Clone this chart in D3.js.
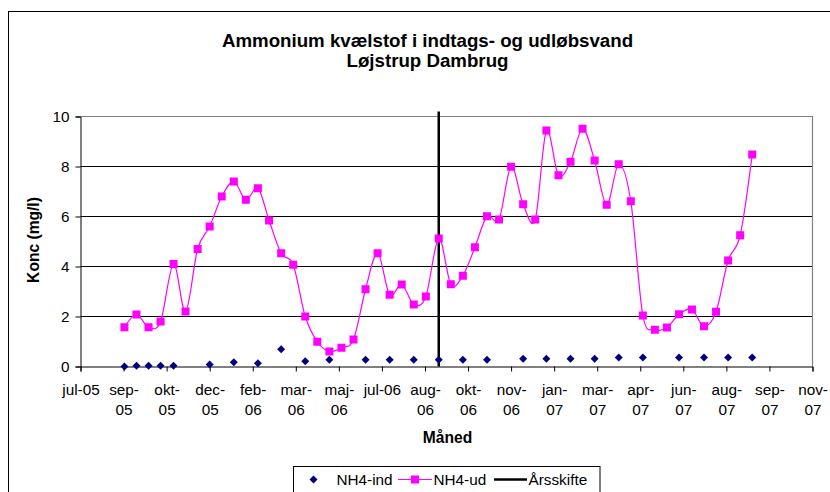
<!DOCTYPE html>
<html>
<head>
<meta charset="utf-8">
<script src="https://cdn.jsdelivr.net/npm/d3@7"></script>
<style>
  html, body { margin: 0; padding: 0; background: #fff; }
  svg { display: block; font-family: "Liberation Sans", Arial, sans-serif; }
</style>
</head>
<body>
<svg id="chart" width="830" height="492"></svg>
<script>
// ---------------- data ----------------
const titleLines = ["Ammonium kvælstof i indtags- og udløbsvand", "Løjstrup Dambrug"];
const yTitle = "Konc (mg/l)";
const xTitle = "Måned";
const seriesNames = ["NH4-ind", "NH4-ud", "Årsskifte"];

const axisStartDate = "2005-07-17";
const axisSpanDays = 850;
const axisStepDays = 50;
const xTickLabels = ["jul-05","sep-05","okt-05","dec-05","feb-06","mar-06","maj-06","jul-06","aug-06",
                     "okt-06","nov-06","jan-07","mar-07","apr-07","jun-07","aug-07","sep-07","nov-07"];
const yTicks = [0, 2, 4, 6, 8, 10];

const udDates = ["2005-09-06","2005-09-20","2005-10-04","2005-10-18","2005-11-02","2005-11-16","2005-11-30",
  "2005-12-14","2005-12-28","2006-01-11","2006-01-25","2006-02-08","2006-02-21","2006-03-07","2006-03-21",
  "2006-04-04","2006-04-18","2006-05-02","2006-05-16","2006-05-30","2006-06-13","2006-06-27","2006-07-11",
  "2006-07-25","2006-08-08","2006-08-22","2006-09-06","2006-09-20","2006-10-04","2006-10-18","2006-11-01",
  "2006-11-15","2006-11-29","2006-12-13","2006-12-27","2007-01-09","2007-01-23","2007-02-06","2007-02-20",
  "2007-03-06","2007-03-20","2007-04-03","2007-04-17","2007-05-01","2007-05-15","2007-05-29","2007-06-12",
  "2007-06-27","2007-07-11","2007-07-25","2007-08-08","2007-08-22","2007-09-05"];
const udValues = [1.57,2.08,1.57,1.8,4.1,2.2,4.7,5.6,6.8,7.4,6.67,7.13,5.84,4.53,4.07,2.0,0.99,0.6,0.75,1.08,
  3.09,4.53,2.87,3.28,2.48,2.8,5.12,3.29,3.63,4.77,6.01,5.88,7.99,6.49,5.88,9.44,7.65,8.19,9.51,8.24,
  6.47,8.09,6.61,2.04,1.47,1.56,2.09,2.28,1.61,2.19,4.24,5.25,8.48];

const indDates = ["2005-09-06","2005-09-20","2005-10-04","2005-10-18","2005-11-02","2005-12-14","2006-01-11",
  "2006-02-08","2006-03-07","2006-04-04","2006-05-02","2006-06-13","2006-07-11","2006-08-08","2006-09-06",
  "2006-10-04","2006-11-01","2006-12-13","2007-01-09","2007-02-06","2007-03-06","2007-04-03","2007-05-01",
  "2007-06-12","2007-07-11","2007-08-08","2007-09-05"];
const indValues = [0,0.03,0.03,0.03,0.03,0.08,0.17,0.13,0.69,0.21,0.27,0.27,0.27,0.27,0.27,0.27,0.27,
  0.31,0.31,0.31,0.31,0.36,0.36,0.36,0.36,0.36,0.36];

const yearChangeDate = "2006-09-06";
const yearChangeRange = [0, 10.2];

// ---------------- drawing ----------------
const parse = d3.utcParse("%Y-%m-%d");
const svg = d3.select("#chart");
const FONT = 15.3;

// outer chart frame
svg.append("rect").attr("x", 8.5).attr("y", 11.5).attr("width", 900).attr("height", 600)
  .attr("fill", "#fff").attr("stroke", "#000").attr("stroke-width", 1);

const x0 = parse(axisStartDate);
const x = d3.scaleUtc().domain([x0, d3.utcDay.offset(x0, axisSpanDays)]).range([80.5, 812.5]);
const y = d3.scaleLinear().domain([0, 10]).range([366.5, 116.5]);

// gridlines
svg.append("g").selectAll("line").data(yTicks.filter(v => v > 0 && v < 10)).join("line")
  .attr("x1", x.range()[0]).attr("x2", x.range()[1])
  .attr("y1", d => y(d)).attr("y2", d => y(d))
  .attr("stroke", "#000").attr("stroke-width", 1);

// plot border (top/right grey)
svg.append("path")
  .attr("d", `M${x.range()[0]},${y(10)}H${x.range()[1]}V${y(0)}`)
  .attr("fill", "none").attr("stroke", "#808080").attr("stroke-width", 1.2);

// y axis
const yAxis = svg.append("g").attr("transform", `translate(${x.range()[0]},0)`)
  .call(d3.axisLeft(y).tickValues(yTicks).tickSize(5).tickPadding(6).tickFormat(d3.format("d")));
yAxis.select(".domain").attr("stroke", "#000");
yAxis.selectAll("text").attr("font-size", FONT).attr("fill", "#000")
  .attr("font-family", '"Liberation Sans", Arial, sans-serif');

// x axis
const tickDates = d3.range(xTickLabels.length).map(k => d3.utcDay.offset(x0, axisStepDays * k));
const xAxis = svg.append("g").attr("transform", `translate(0,${y(0)})`)
  .call(d3.axisBottom(x).tickValues(tickDates).tickSize(5).tickFormat((d, i) => xTickLabels[i]));
xAxis.select(".domain").attr("stroke", "#000");
xAxis.selectAll("text")
  .attr("font-size", FONT).attr("fill", "#000")
  .attr("font-family", '"Liberation Sans", Arial, sans-serif')
  .attr("dy", null).attr("y", 28)
  .each(function() {
    const t = d3.select(this);
    const label = t.text();
    if (this.getComputedTextLength() > 40) {
      const idx = label.indexOf("-");
      t.text(null);
      t.append("tspan").attr("x", 0).attr("y", 28).text(label.slice(0, idx + 1));
      t.append("tspan").attr("x", 0).attr("y", 48).text(label.slice(idx + 1));
    }
  });

// year change line
svg.append("line")
  .attr("x1", x(parse(yearChangeDate))).attr("x2", x(parse(yearChangeDate)))
  .attr("y1", y(yearChangeRange[0])).attr("y2", y(yearChangeRange[1]))
  .attr("stroke", "#000").attr("stroke-width", 2.5);

// NH4-ud series
const ud = udDates.map((d, i) => ({ date: parse(d), v: udValues[i] }));
svg.append("path").datum(ud)
  .attr("fill", "none").attr("stroke", "#FF00FF").attr("stroke-width", 1.2)
  .attr("d", d3.line().x(d => x(d.date)).y(d => y(d.v)).curve(d3.curveCardinal.tension(0)));
svg.append("g").selectAll("rect").data(ud).join("rect")
  .attr("x", d => x(d.date) - 4).attr("y", d => y(d.v) - 4)
  .attr("width", 8).attr("height", 8).attr("fill", "#FF00FF");

// NH4-ind series
const ind = indDates.map((d, i) => ({ date: parse(d), v: indValues[i] }));
const diamond = "M0,-4L4,0L0,4L-4,0Z";
svg.append("g").selectAll("path").data(ind).join("path")
  .attr("transform", d => `translate(${x(d.date)},${y(d.v)})`)
  .attr("d", diamond).attr("fill", "#000080");

// titles
const title = svg.append("text").attr("text-anchor", "middle")
  .attr("font-size", 18.7).attr("font-weight", "bold").attr("fill", "#000");
titleLines.forEach((t, i) => title.append("tspan").attr("x", 427.5).attr("y", 46.5 + i * 20.5).text(t));

svg.append("text").attr("text-anchor", "middle").attr("font-weight", "bold")
  .attr("font-size", 15.6).attr("x", 447.5).attr("y", 442.5).text(xTitle);
svg.append("text").attr("text-anchor", "middle").attr("font-weight", "bold")
  .attr("font-size", 15.6).attr("transform", "translate(39,240) rotate(-90)").text(yTitle);

// legend
const lg = svg.append("g");
lg.append("rect").attr("x", 293.5).attr("y", 466.5).attr("width", 306.5).attr("height", 40)
  .attr("fill", "#fff").attr("stroke", "#000").attr("stroke-width", 1);
const ly = 479.5;
lg.append("path").attr("transform", `translate(313.5,${ly})`).attr("d", diamond).attr("fill", "#000080");
lg.append("text").attr("x", 336.5).attr("y", ly + 5.5).attr("font-size", FONT).text(seriesNames[0]);
lg.append("line").attr("x1", 398).attr("x2", 432).attr("y1", ly).attr("y2", ly)
  .attr("stroke", "#FF00FF").attr("stroke-width", 1.2);
lg.append("rect").attr("x", 411).attr("y", ly - 4).attr("width", 8).attr("height", 8).attr("fill", "#FF00FF");
lg.append("text").attr("x", 433.5).attr("y", ly + 5.5).attr("font-size", FONT).text(seriesNames[1]);
lg.append("line").attr("x1", 494).attr("x2", 527).attr("y1", ly).attr("y2", ly)
  .attr("stroke", "#000").attr("stroke-width", 2.5);
lg.append("text").attr("x", 528.5).attr("y", ly + 5.5).attr("font-size", FONT).text(seriesNames[2]);
</script>
</body>
</html>
